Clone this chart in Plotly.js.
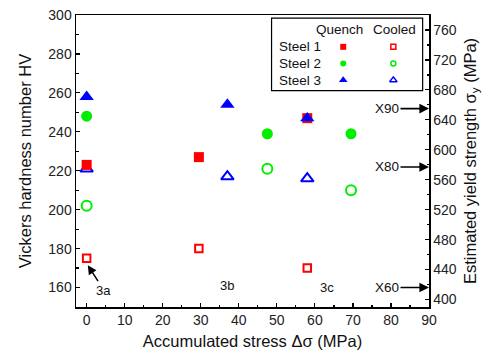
<!DOCTYPE html>
<html><head><meta charset="utf-8">
<script src="https://cdn.plot.ly/plotly-3.0.1.min.js"></script>
<style>body{margin:0;padding:0;background:#fff;} #chart{width:485px;height:356px;}</style>
</head><body><div id="chart"></div>
<script>
// ---- data ----
const stress1 = [0, 29.5, 58];
const steel1Quench = [223, 227, 247];
const steel1Cooled = [175, 180, 170];
const stress2 = [0, 47.5, 69.5];
const steel2Quench = [248, 239, 239];
const steel2Cooled = [202, 221, 210];
const stress3 = [0, 37, 58];
const steel3Quench = [258, 254, 247];
const steel3Cooled = [221, 217, 216];

const steelNames = ["Steel 1", "Steel 2", "Steel 3"];
const stateNames = ["Quench", "Cooled"];
const gradeLabels = ["X90", "X80", "X60"];
const gradeStrength = [655, 577, 416];   // MPa, on right axis
const sampleLabels = ["3a", "3b", "3c"];
const sampleX = [4.5, 37, 63.2];
const sampleY = [158.6, 161, 160];
const xTicks = [0, 10, 20, 30, 40, 50, 60, 70, 80, 90];

// ---- styles ----
const colors = ["#ff0000", "#00ee00", "#0000ff"];
const symbols = ["square", "circle", "triangle-up"];
const sizes = [10, 11, 12.5];
const openSizes = [7.5, 10, 11];
const FONT = "Liberation Sans, Arial, sans-serif";

const xs = [stress1, stress2, stress3];
const quench = [steel1Quench, steel2Quench, steel3Quench];
const cooled = [steel1Cooled, steel2Cooled, steel3Cooled];

const traces = [];
for (let i = 0; i < 3; i++) {
  traces.push({x: xs[i], y: cooled[i], type: "scatter", mode: "markers", cliponaxis: false,
    marker: {symbol: symbols[i] + "-open", size: openSizes[i], color: colors[i], line: {width: 2, color: colors[i]}}});
}
for (let i = 0; i < 3; i++) {
  traces.push({x: xs[i], y: quench[i], type: "scatter", mode: "markers", cliponaxis: false,
    marker: {symbol: symbols[i], size: sizes[i], color: colors[i], line: {width: 0}}});
}
// legend markers on hidden axes
for (let i = 0; i < 3; i++) {
  const rowY = steelNames.length - 1 - i;
  traces.push({x: [0], y: [rowY], xaxis: "x3", yaxis: "y3", type: "scatter", mode: "markers", cliponaxis: false,
    marker: {symbol: symbols[i], size: i === 2 ? 7.5 : 6, color: colors[i], line: {width: 0}}});
  traces.push({x: [1], y: [rowY], xaxis: "x3", yaxis: "y3", type: "scatter", mode: "markers", cliponaxis: false,
    marker: {symbol: symbols[i] + "-open", size: i === 2 ? 6.5 : 5, color: colors[i], line: {width: 1.5, color: colors[i]}}});
}
// trace to activate the right axis
traces.push({x: [null], y: [null], yaxis: "y2", type: "scatter", mode: "markers", showlegend: false});

const axisCommon = {showline: true, linecolor: "#000", linewidth: 1.5, ticks: "inside", ticklen: 4, tickwidth: 1.2,
  tickcolor: "#000", showgrid: false, zeroline: false, tickfont: {family: FONT, size: 14, color: "#222"}};

const annotations = [];
// legend texts
stateNames.forEach((s, j) => annotations.push({xref: "paper", yref: "paper", x: j === 0 ? 0.747 : 0.901, y: 0.949,
  text: s, showarrow: false, xanchor: "center", yanchor: "middle", font: {family: FONT, size: 13.5, color: "#111"}}));
steelNames.forEach((s, i) => annotations.push({xref: "paper", yref: "paper", x: 0.699, y: 0.891 - i * 0.057,
  text: s, showarrow: false, xanchor: "right", yanchor: "middle", font: {family: FONT, size: 13.5, color: "#111"}}));
// sample labels
sampleLabels.forEach((s, i) => {
  const a = {x: sampleX[i], y: sampleY[i], xref: "x", yref: "y", text: s, showarrow: false,
    font: {family: FONT, size: 13, color: "#111"}};
  if (i === 0) {
    Object.assign(a, {x: 0.3, y: 171.5, ax: 16, ay: 25, showarrow: true, arrowhead: 2, arrowsize: 1.2, arrowwidth: 1.5, arrowcolor: "#000"});
  }
  annotations.push(a);
});
// pipeline grade arrows
gradeLabels.forEach((g, i) => annotations.push({xref: "paper", yref: "y2", x: 1, y: gradeStrength[i], text: g,
  showarrow: true, ax: -42, ay: 0, arrowhead: 2, arrowsize: 1.2, arrowwidth: 1.6, arrowcolor: "#000", standoff: 0,
  font: {family: FONT, size: 13.5, color: "#111"}}));

const layout = {
  width: 485, height: 356,
  margin: {l: 76, r: 56, t: 15, b: 49},
  paper_bgcolor: "#fff", plot_bgcolor: "#fff",
  showlegend: false,
  xaxis: Object.assign({}, axisCommon, {range: [-2.8, 90], tickvals: xTicks, mirror: true,
    minor: {dtick: 5, ticks: "inside", ticklen: 2.5, tickcolor: "#000"},
    title: {text: "Accumulated stress Δσ (MPa)", font: {family: FONT, size: 16.5, color: "#111"}, standoff: 8}}),
  yaxis: Object.assign({}, axisCommon, {range: [150, 300], dtick: 20, tick0: 0,
    minor: {dtick: 10, ticks: "inside", ticklen: 2.5, tickcolor: "#000"},
    title: {text: "Vickers hardness number HV", font: {family: FONT, size: 16.5, color: "#111"}, standoff: 12}}),
  yaxis2: Object.assign({}, axisCommon, {overlaying: "y", side: "right", range: [390, 780], dtick: 40, tick0: 0,
    minor: {dtick: 20, ticks: "inside", ticklen: 2.5, tickcolor: "#000"},
    title: {text: "Estimated yield strength σ<sub>y</sub> (MPa)", font: {family: FONT, size: 16.5, color: "#111"}, standoff: 8}}),
  xaxis3: {domain: [0.757, 0.899], range: [0, 1], anchor: "y3", visible: false},
  yaxis3: {domain: [0.777, 0.891], range: [0, 2], anchor: "x3", visible: false},
  shapes: [{type: "rect", xref: "paper", yref: "paper", x0: 0.554, x1: 0.982, y0: 0.741, y1: 0.989,
    line: {color: "#000", width: 1.2}, fillcolor: "rgba(0,0,0,0)"}],
  annotations: annotations
};

Plotly.newPlot("chart", traces, layout, {staticPlot: true, displayModeBar: false});
</script></body></html>
